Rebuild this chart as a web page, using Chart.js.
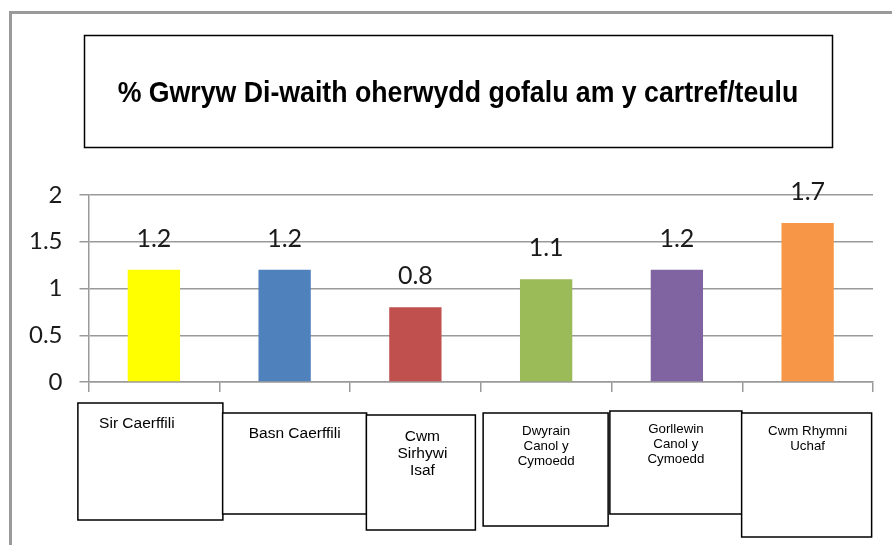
<!DOCTYPE html>
<html>
<head>
<meta charset="utf-8">
<script src="https://cdn.jsdelivr.net/npm/chart.js@4.4.1/dist/chart.umd.min.js"></script>
<style>
  body { margin: 0; background: #fff; }
  #wrap { width: 892px; height: 545px; }
</style>
</head>
<body>
<div id="wrap"><canvas id="chart" width="892" height="545"></canvas></div>
<script>
const titleText = '% Gwryw Di-waith oherwydd gofalu am y cartref/teulu';
const categories = [
    ['Sir Caerffili'],
    ['Basn Caerffili'],
    ['Cwm', 'Sirhywi', 'Isaf'],
    ['Dwyrain', 'Canol y', 'Cymoedd'],
    ['Gorllewin', 'Canol y', 'Cymoedd'],
    ['Cwm Rhymni', 'Uchaf']
];
const values = [1.2, 1.2, 0.8, 1.1, 1.2, 1.7];
const barColors = ['#FFFF00', '#4F81BD', '#C0504D', '#9BBB59', '#8064A2', '#F79646'];
const yMin = 0;
const yMax = 2;
const yStep = 0.5;

// boxes round the category names, offsets from each category centre
const labelBoxes = [
    { dx0: -76, dx1: 69, top: 403, bottom: 520, tx: -17, ty: 424, size: 15.5, lh: 17 },
    { dx0: -62, dx1: 82, top: 413, bottom: 514, tx: 10, ty: 434, size: 15.5, lh: 17 },
    { dx0: -49, dx1: 60, top: 415, bottom: 530, tx: 7, ty: 437, size: 15.5, lh: 17 },
    { dx0: -63, dx1: 62, top: 413, bottom: 526, tx: 0, ty: 431, size: 13.3, lh: 15 },
    { dx0: -67, dx1: 65, top: 411, bottom: 514, tx: -1, ty: 429, size: 13.3, lh: 15 },
    { dx0: -66, dx1: 64, top: 413, bottom: 537, tx: 0, ty: 431, size: 13.3, lh: 15 }
];

const decorations = {
    id: 'decorations',
    beforeDraw(chart) {
        const c = chart.ctx;
        c.save();
        c.fillStyle = '#fff';
        c.fillRect(0, 0, chart.width, chart.height);
        // outer frame
        c.strokeStyle = '#9a9a9a';
        c.lineWidth = 3;
        c.beginPath();
        c.moveTo(10.5, 545);
        c.lineTo(10.5, 12.5);
        c.lineTo(892, 12.5);
        c.stroke();
        // title box
        c.strokeStyle = '#000';
        c.lineWidth = 1.5;
        c.strokeRect(84.5, 35.5, 748, 112);
        c.translate(458, 94);
        c.scale(1, 1.12);
        c.fillStyle = '#000';
        c.font = 'bold 26.7px "Liberation Sans", Arial, sans-serif';
        c.textAlign = 'center';
        c.textBaseline = 'middle';
        c.fillText(titleText, 0, 0);
        c.restore();
    },
    afterDatasetsDraw(chart) {
        const c = chart.ctx;
        const meta = chart.getDatasetMeta(0);
        c.save();
        c.fillStyle = '#1a1a1a';
        c.font = '25px Lato, "Noto Sans", sans-serif';
        c.textAlign = 'center';
        c.textBaseline = 'alphabetic';
        meta.data.forEach((bar, i) => {
            c.fillText(String(values[i]), bar.x, bar.y - 23);
        });
        c.restore();
    },
    afterDraw(chart) {
        const c = chart.ctx;
        const xs = chart.scales.x;
        c.save();
        labelBoxes.forEach((b, i) => {
            const cx = xs.getPixelForValue(i);
            c.fillStyle = '#fff';
            c.fillRect(cx + b.dx0, b.top, b.dx1 - b.dx0, b.bottom - b.top);
            c.strokeStyle = '#000';
            c.lineWidth = 1.5;
            c.strokeRect(cx + b.dx0, b.top, b.dx1 - b.dx0, b.bottom - b.top);
            c.fillStyle = '#000';
            c.font = b.size + 'px "Liberation Sans", Arial, sans-serif';
            c.textAlign = 'center';
            c.textBaseline = 'middle';
            categories[i].forEach((line, j) => {
                c.fillText(line, cx + b.tx, b.ty + j * b.lh);
            });
        });
        c.restore();
    }
};

const ctx = document.getElementById('chart').getContext('2d');
const myChart = new Chart(ctx, {
    type: 'bar',
    data: {
        labels: categories,
        datasets: [{
            data: values,
            backgroundColor: barColors,
            borderWidth: 0,
            barPercentage: 0.4,
            categoryPercentage: 1
        }]
    },
    options: {
        responsive: false,
        animation: false,
        layout: { padding: { top: 195, left: 12, right: 19, bottom: 153 } },
        plugins: {
            legend: { display: false },
            title: { display: false },
            tooltip: { enabled: false }
        },
        scales: {
            x: {
                grid: { drawOnChartArea: false, color: '#9a9a9a', lineWidth: 1.5, tickLength: 10 },
                border: { color: '#9a9a9a', width: 1.5 },
                ticks: { display: false }
            },
            y: {
                min: yMin,
                max: yMax,
                ticks: {
                    stepSize: yStep,
                    padding: 17,
                    color: '#1a1a1a',
                    font: { family: 'Lato, "Noto Sans", sans-serif', size: 24 },
                    callback: v => String(v)
                },
                grid: { color: '#9a9a9a', lineWidth: 1.5, tickLength: 9 },
                border: { color: '#9a9a9a', width: 1.5 }
            }
        }
    },
    plugins: [decorations]
});
</script>
</body>
</html>
